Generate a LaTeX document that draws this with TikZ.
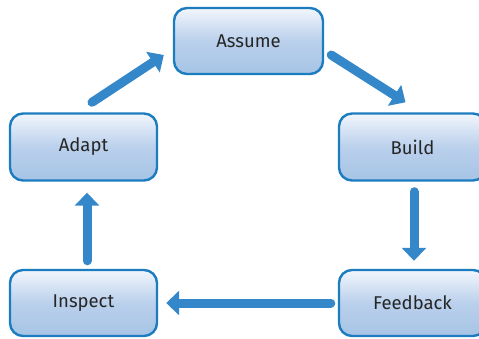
\documentclass[tikz,border=0pt]{standalone}
\usepackage{fontspec}
\setmainfont{Fira Sans}
\usetikzlibrary{arrows.meta,calc}
\definecolor{boxline}{RGB}{28,124,192}
\definecolor{boxtop}{RGB}{242,246,252}
\definecolor{boxmid}{RGB}{186,208,236}
\definecolor{boxbot}{RGB}{166,196,229}
\definecolor{arrcol}{RGB}{52,136,202}
\begin{document}
\begin{tikzpicture}[x=1pt,y=1pt,
  stagebox/.style={draw=boxline, line width=2.4pt, rounded corners=13pt,
    top color=boxtop, bottom color=boxbot, middle color=boxmid,
    minimum width=147pt, minimum height=67pt, inner sep=0pt,
    font=\fontsize{18.5}{22}\selectfont, text=black!85},
  blockarrow/.style={draw=arrcol, line width=9pt, line cap=round,
    -{Triangle[width=24pt,length=13pt]}}]
\useasboundingbox (0,0) rectangle (479,338);
\node[stagebox, minimum width=149pt, minimum height=66pt] (assume) at (248.5,297) {Assume};
\node[stagebox] (build) at (412.5,191) {Build};
\node[stagebox] (adapt) at (83.5,191) {Adapt};
\node[stagebox, minimum height=66pt] (inspect) at (83.5,35) {Inspect};
\node[stagebox, minimum height=66pt] (feedback) at (412.5,35) {Feedback};
% connectors
\draw[blockarrow] ($(adapt.north)+(8.5,10)$) -- ($(assume.west)+(-9,-14)$);
\draw[blockarrow] ($(assume.east)+(7,-14)$) -- ($(build.north)+(-7,10)$);
\draw[blockarrow] ($(build.south)+(1.5,-10)$) -- ($(feedback.north)+(1.5,8)$);
\draw[blockarrow] ($(feedback.west)+(-7,0)$) -- ($(inspect.east)+(8,0)$);
\draw[blockarrow] ($(inspect.north)+(3.5,8)$) -- ($(adapt.south)+(3.5,-11)$);
\end{tikzpicture}
\end{document}
